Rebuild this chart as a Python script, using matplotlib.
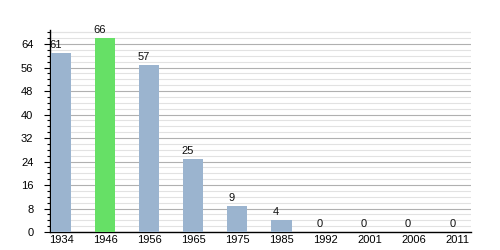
import matplotlib
matplotlib.use("Agg")
import matplotlib.pyplot as plt
from matplotlib.ticker import MultipleLocator
from matplotlib.transforms import offset_copy

years = ["1934", "1946", "1956", "1965", "1975", "1985", "1992", "2001", "2006", "2011"]
values = [61, 66, 57, 25, 9, 4, 0, 0, 0, 0]
highlight = "1946"
bar_color = "#9bb4cf"
hi_color = "#66e066"

plt.rcParams['font.family'] = ['Liberation Sans', 'DejaVu Sans']

fig = plt.figure(figsize=(5, 2.5), dpi=100)
ax = fig.add_axes([0.1, 0.072, 0.842, 0.808])

x = list(range(len(years)))
colors = [hi_color if y == highlight else bar_color for y in years]
ax.bar(x, values, width=0.46, color=colors, zorder=3)

trans = offset_copy(ax.transData, fig=fig, x=-5, y=2, units='points')
for xi, v in zip(x, values):
    ax.text(xi, v, str(v), transform=offset_copy(ax.transData, fig=fig, x=-4, y=2, units='points'),
            ha='center', va='bottom', fontsize=8, color='#111111', zorder=4)

ax.set_xlim(-0.25, 9.3)
ax.set_ylim(0, 68.8)
ax.yaxis.set_major_locator(MultipleLocator(8))
ax.yaxis.set_minor_locator(MultipleLocator(2))
ax.set_xticks(x)
ax.set_xticklabels(years)
ax.grid(axis='y', which='major', color='#b0b0b0', linewidth=0.8, zorder=0)
ax.grid(axis='y', which='minor', color='#e2e2e2', linewidth=0.8, zorder=0)
ax.axhline(68, color='#e2e2e2', linewidth=0.8, zorder=0)
for s in ['top', 'right']:
    ax.spines[s].set_visible(False)
ax.spines['left'].set_linewidth(1.0)
ax.spines['bottom'].set_linewidth(1.0)
ax.tick_params(axis='y', which='major', length=4, width=0.8, labelsize=8, pad=8)
ax.tick_params(axis='y', which='minor', length=2, width=0.8)
ax.tick_params(axis='x', length=0, labelsize=8, pad=2)

fig.savefig("out.png", dpi=100)
